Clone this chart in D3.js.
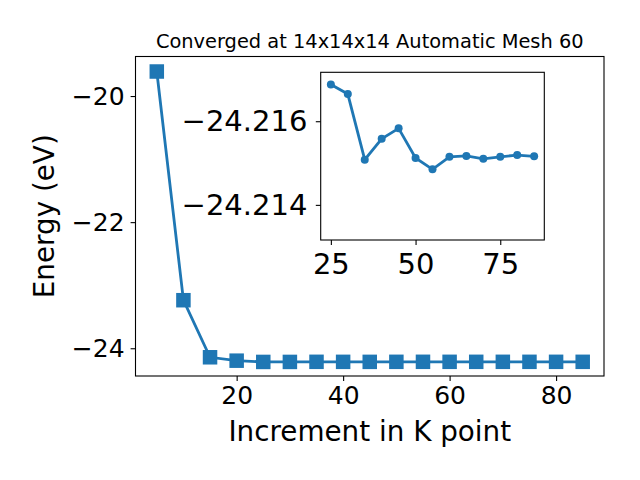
<!DOCTYPE html>
<html>
<head>
<meta charset="utf-8">
<script src="https://cdn.jsdelivr.net/npm/d3@7"></script>
<style>
  body { margin: 0; background: #fff; }
  text { font-family: "DejaVu Sans", sans-serif; }
</style>
</head>
<body>
<div id="container"></div>
<script>
// 数据
const kPoints = [5, 10, 15, 20, 25, 30, 35, 40, 45, 50, 55, 60, 65, 70, 75, 80, 85];
const energies = [-19.611, -23.238, -24.143, -24.197,
  -24.21688, -24.21665, -24.21508, -24.21558, -24.21583, -24.21512, -24.21485,
  -24.21515, -24.21517, -24.2151, -24.21515, -24.21519, -24.21516];
const xTicks = [20, 40, 60, 80];
const yTicks = [-20, -22, -24];
const insetXTicks = [25, 50, 75];
const insetYTicks = [-24.216, -24.214];
const insetStart = 25;

const width = 640;
const height = 480;
const color = '#1f77b4';

const svg = d3.create('svg').attr('width', width).attr('height', height);

// 主图
const box = { left: 135.5, right: 604, top: 56.5, bottom: 376 };
const x = d3.scaleLinear().domain([1, 89]).range([box.left, box.right]);
const y = d3.scaleLinear().domain([-24.44, -19.373]).range([box.bottom, box.top]);

const pts = kPoints.map((k, i) => ({ k, e: energies[i] }));

const xAxis = svg.append('g')
  .attr('transform', `translate(0,${box.bottom})`)
  .call(d3.axisBottom(x).tickValues(xTicks).tickSize(4.9).tickPadding(5.5).tickFormat(d3.format('d')));
const yAxis = svg.append('g')
  .attr('transform', `translate(${box.left},0)`)
  .call(d3.axisLeft(y).tickValues(yTicks).tickSize(4.9).tickPadding(6).tickFormat(d3.format('d')));
[xAxis, yAxis].forEach(a => {
  a.select('.domain').remove();
  a.selectAll('text').attr('font-size', 25).attr('font-family', 'DejaVu Sans').attr('fill', '#000');
  a.selectAll('line').attr('stroke', '#000').attr('stroke-width', 1.1);
});

svg.append('path')
  .datum(pts)
  .attr('fill', 'none')
  .attr('stroke', color)
  .attr('stroke-width', 2.8)
  .attr('d', d3.line().x(d => x(d.k)).y(d => y(d.e)));

const sq = 14.5;
svg.selectAll('.sq')
  .data(pts)
  .enter()
  .append('rect')
  .attr('x', d => x(d.k) - sq / 2)
  .attr('y', d => y(d.e) - sq / 2)
  .attr('width', sq)
  .attr('height', sq)
  .attr('fill', color);

svg.append('rect')
  .attr('x', box.left).attr('y', box.top)
  .attr('width', box.right - box.left).attr('height', box.bottom - box.top)
  .attr('fill', 'none').attr('stroke', '#000').attr('stroke-width', 1.1);

svg.append('text')
  .attr('x', (box.left + box.right) / 2).attr('y', 48)
  .attr('text-anchor', 'middle').attr('font-size', 19.4)
  .text('Converged at 14x14x14 Automatic Mesh 60');

svg.append('text')
  .attr('x', (box.left + box.right) / 2).attr('y', 441)
  .attr('text-anchor', 'middle').attr('font-size', 27.8)
  .text('Increment in K point');

svg.append('text')
  .attr('transform', `translate(54,${(box.top + box.bottom) / 2}) rotate(-90)`)
  .attr('text-anchor', 'middle').attr('font-size', 27.8)
  .text('Energy (eV)');

// 插图
const ib = { left: 320.7, right: 544.3, top: 72.3, bottom: 240 };
const ix = d3.scaleLinear().domain([22, 88]).range([ib.left, ib.right]);
const iy = d3.scaleLinear().domain([-24.21717, -24.21316]).range([ib.top, ib.bottom]);
const ipts = pts.filter(d => d.k >= insetStart);

svg.append('rect')
  .attr('x', ib.left).attr('y', ib.top)
  .attr('width', ib.right - ib.left).attr('height', ib.bottom - ib.top)
  .attr('fill', '#fff');

const ixAxis = svg.append('g')
  .attr('transform', `translate(0,${ib.bottom})`)
  .call(d3.axisBottom(ix).tickValues(insetXTicks).tickSize(4.9).tickPadding(8.4).tickFormat(d3.format('d')));
const iyAxis = svg.append('g')
  .attr('transform', `translate(${ib.left},0)`)
  .call(d3.axisLeft(iy).tickValues(insetYTicks).tickSize(4.9).tickPadding(8.4).tickFormat(d3.format('.3f')));
[ixAxis, iyAxis].forEach(a => {
  a.select('.domain').remove();
  a.selectAll('text').attr('font-size', 29).attr('font-family', 'DejaVu Sans').attr('fill', '#000');
  a.selectAll('line').attr('stroke', '#000').attr('stroke-width', 1.1);
});

svg.append('path')
  .datum(ipts)
  .attr('fill', 'none')
  .attr('stroke', color)
  .attr('stroke-width', 2.8)
  .attr('d', d3.line().x(d => ix(d.k)).y(d => iy(d.e)));

svg.selectAll('.dot')
  .data(ipts)
  .enter()
  .append('circle')
  .attr('cx', d => ix(d.k))
  .attr('cy', d => iy(d.e))
  .attr('r', 4)
  .attr('fill', color);

svg.append('rect')
  .attr('x', ib.left).attr('y', ib.top)
  .attr('width', ib.right - ib.left).attr('height', ib.bottom - ib.top)
  .attr('fill', 'none').attr('stroke', '#000').attr('stroke-width', 1.1);

d3.select('#container').append(() => svg.node());
</script>
</body>
</html>
